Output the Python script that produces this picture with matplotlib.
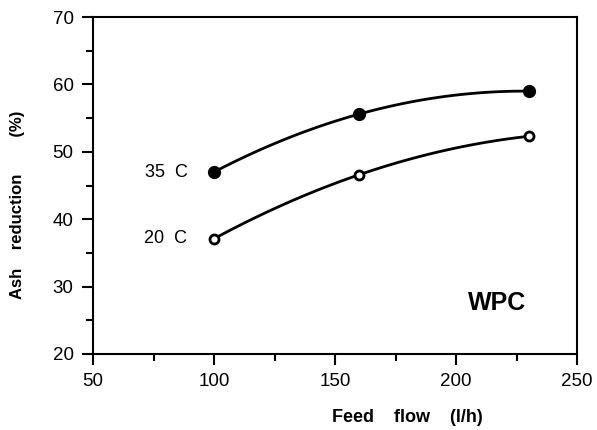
import matplotlib
import numpy as np

matplotlib.use("Agg")
import matplotlib.pyplot as plt
from matplotlib.ticker import MultipleLocator

plt.rcParams["font.family"] = ["Liberation Sans", "DejaVu Sans"]

# Feed flow (l/h) and ash reduction (%)
feed_flow = [100, 160, 230]
ash_35c = [47.0, 55.6, 59.0]
ash_20c = [37.1, 46.6, 52.3]

series_labels = ["35  C", "20  C"]


def smooth(x, y):
    """Quadratic through the three points, for a smooth hand-drawn look."""
    coef = np.polyfit(x, y, 2)
    xs = np.linspace(min(x), max(x), 100)
    return xs, np.polyval(coef, xs)


fig = plt.figure(figsize=(5.97, 4.30), dpi=100)
ax = fig.add_axes([93 / 597, 1 - 354 / 430, (577 - 93) / 597, (354 - 17) / 430])

for y, filled in [(ash_35c, True), (ash_20c, False)]:
    xs, ys = smooth(feed_flow, y)
    ax.plot(xs, ys, color="black", lw=2.0, zorder=2)
    ax.plot(feed_flow, y, "o", ms=7.5 if filled else 6.5,
            mfc="black" if filled else "white", mec="black", mew=2.0, zorder=3)

ax.text(89, ash_35c[0], series_labels[0], fontsize=13, ha="right", va="center")
ax.text(89, ash_20c[0], series_labels[1], fontsize=13, ha="right", va="center")
ax.text(217, 27.6, "WPC", fontsize=18, fontweight="bold", ha="center", va="center")

ax.set_xlim(50, 250)
ax.set_ylim(20, 70)
ax.xaxis.set_major_locator(MultipleLocator(50))
ax.xaxis.set_minor_locator(MultipleLocator(25))
ax.yaxis.set_major_locator(MultipleLocator(10))
ax.yaxis.set_minor_locator(MultipleLocator(5))
ax.tick_params(which="major", direction="out", length=8, width=1.5, labelsize=13.5, pad=6)
ax.tick_params(which="minor", direction="out", length=5, width=1.5)
ax.tick_params(top=False, right=False)
for s in ax.spines.values():
    s.set_linewidth(1.5)

fig.text(18 / 597, 1 - 205 / 430, "Ash    reduction        (%)", rotation=90,
         fontsize=12, fontweight="bold", ha="center", va="center")
fig.text(407 / 597, 1 - 418 / 430, "Feed    flow    (l/h)",
         fontsize=13, fontweight="bold", ha="center", va="center")

fig.savefig("out.png", dpi=100)
plt.close(fig)
